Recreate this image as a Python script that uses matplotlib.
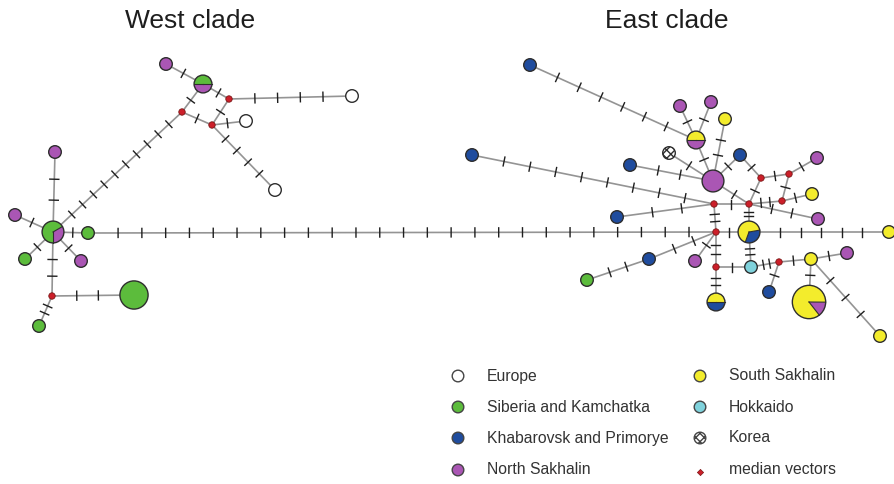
import numpy as np
import matplotlib
matplotlib.use("Agg")
import matplotlib.pyplot as plt
from matplotlib.patches import Circle, Wedge

plt.rcParams['font.family'] = ['Liberation Sans', 'DejaVu Sans']

# region codes -> legend label
regions = ['EU', 'SK', 'KP', 'NS', 'SS', 'HK', 'KO', 'MV']
region_labels = ['Europe', 'Siberia and Kamchatka', 'Khabarovsk and Primorye', 'North Sakhalin',
                 'South Sakhalin', 'Hokkaido', 'Korea', 'median vectors']

# haplotypes: id, layout position, composition (region: number of samples)
node_ids = ['w_hub', 'w_p1', 'w_p2', 'w_g1', 'w_p3', 'w_g2', 'w_m1', 'w_G', 'w_g3',
            'w_p4', 'w_pie', 'w_mA', 'w_e1', 'w_mB', 'w_mC', 'w_e2', 'w_e3',
            'e_b1', 'e_pie1', 'e_p1', 'e_p2', 'e_y1', 'e_hub', 'e_k', 'e_b2', 'e_b3',
            'e_m1', 'e_m2', 'e_p3', 'e_m3', 'e_y2', 'e_m4', 'e_p4', 'e_m5', 'e_b4', 'e_b5',
            'e_m6', 'e_pie2', 'e_y3', 'e_m7', 'e_pie3', 'e_c', 'e_m8', 'e_b6', 'e_y4',
            'e_p5', 'e_Y', 'e_y5', 'e_b7', 'e_g', 'e_p6']
node_x = [53, 55, 15, 25, 81, 88, 52, 134, 39,
          166, 203, 229, 352, 182, 212, 246, 275,
          530, 696, 680, 711, 725, 713, 669, 630, 740,
          761, 789, 817, 782, 812, 749, 818, 714, 472, 617,
          716, 749, 889, 716, 716, 751, 779, 769, 811,
          847, 809, 880, 649, 587, 695]
node_y = [232, 152, 215, 259, 261, 233, 296, 295, 326,
          64, 84, 99, 96, 112, 125, 121, 190,
          65, 140, 106, 102, 119, 181, 153, 165, 155,
          178, 174, 158, 201, 194, 204, 219, 204, 155, 217,
          232, 232, 232, 267, 302, 267, 262, 292, 259,
          253, 302, 336, 259, 280, 261]
node_comp = [{'NS': 1, 'SK': 2}, {'NS': 1}, {'NS': 1}, {'SK': 1}, {'NS': 1}, {'SK': 1}, {'MV': 1}, {'SK': 5}, {'SK': 1},
             {'NS': 1}, {'SK': 1, 'NS': 1}, {'MV': 1}, {'EU': 1}, {'MV': 1}, {'MV': 1}, {'EU': 1}, {'EU': 1},
             {'KP': 1}, {'SS': 1, 'NS': 1}, {'NS': 1}, {'NS': 1}, {'SS': 1}, {'NS': 3}, {'KO': 1}, {'KP': 1}, {'KP': 1},
             {'MV': 1}, {'MV': 1}, {'NS': 1}, {'MV': 1}, {'SS': 1}, {'MV': 1}, {'NS': 1}, {'MV': 1}, {'KP': 1}, {'KP': 1},
             {'MV': 1}, {'KP': 1, 'SS': 2}, {'SS': 1}, {'MV': 1}, {'SS': 1, 'KP': 1}, {'HK': 1}, {'MV': 1}, {'KP': 1}, {'SS': 1},
             {'NS': 1}, {'NS': 1, 'SS': 6}, {'SS': 1}, {'KP': 1}, {'SK': 1}, {'NS': 1}]
# first wedge start angle for mixed haplotypes (degrees)
pie_start = {'w_hub': -90, 'w_pie': 0, 'e_pie1': 0, 'e_pie2': -110, 'e_pie3': 0, 'e_Y': -52}

# links: (from, to, number of mutations)
edges = [('w_hub', 'w_p1', 2), ('w_hub', 'w_p2', 1), ('w_hub', 'w_g1', 1), ('w_hub', 'w_p3', 1),
         ('w_hub', 'w_g2', 1), ('w_hub', 'w_m1', 2), ('w_m1', 'w_G', 2), ('w_m1', 'w_g3', 2),
         ('w_hub', 'w_mB', 10), ('w_mB', 'w_pie', 1), ('w_mB', 'w_mC', 1), ('w_pie', 'w_p4', 1),
         ('w_pie', 'w_mA', 1), ('w_mA', 'w_mC', 1), ('w_mA', 'w_e1', 4), ('w_mC', 'w_e2', 1),
         ('w_mC', 'w_e3', 4), ('w_g2', 'e_m6', 25),
         ('e_b1', 'e_pie1', 6), ('e_p1', 'e_pie1', 1), ('e_p2', 'e_pie1', 1), ('e_pie1', 'e_hub', 1),
         ('e_y1', 'e_hub', 2), ('e_k', 'e_hub', 1), ('e_b2', 'e_hub', 2), ('e_b3', 'e_hub', 1),
         ('e_b3', 'e_m1', 1), ('e_m1', 'e_m2', 1), ('e_m2', 'e_p3', 1), ('e_m2', 'e_m3', 1),
         ('e_m3', 'e_y2', 1), ('e_m1', 'e_m4', 1), ('e_m4', 'e_m3', 2), ('e_hub', 'e_m4', 1),
         ('e_m4', 'e_p4', 2), ('e_m5', 'e_m4', 1), ('e_b4', 'e_m5', 8), ('e_b5', 'e_m5', 2),
         ('e_m5', 'e_m6', 2), ('e_m6', 'e_pie2', 1), ('e_pie2', 'e_y3', 5), ('e_m4', 'e_pie2', 2),
         ('e_m6', 'e_m7', 2), ('e_m7', 'e_pie3', 2), ('e_m7', 'e_c', 1), ('e_c', 'e_pie2', 2),
         ('e_c', 'e_m8', 2), ('e_m8', 'e_b6', 1), ('e_m8', 'e_y4', 1), ('e_y4', 'e_p5', 1),
         ('e_y4', 'e_Y', 1), ('e_y4', 'e_y5', 3), ('e_m6', 'e_b7', 2), ('e_b7', 'e_g', 2),
         ('e_m6', 'e_p6', 1)]

colors = {'EU': 'white', 'SK': '#5cbc3c', 'KP': '#1f4c9e', 'NS': '#aa56b4',
          'SS': '#f3ec2c', 'HK': '#7fd2dc', 'KO': 'white', 'MV': '#cc1f2a'}

fig = plt.figure(figsize=(8.95, 4.84), dpi=100)
ax = fig.add_axes([0, 0, 1, 1])
ax.set_xlim(0, 895)
ax.set_ylim(484, 0)
ax.axis('off')

pos = {n: (x, y) for n, x, y in zip(node_ids, node_x, node_y)}
comp = dict(zip(node_ids, node_comp))


def radius(n):
    c = comp[n]
    if 'MV' in c:
        return 3.2
    return 6.3 * np.sqrt(sum(c.values()))


# links with mutation ticks
for a, b, m in edges:
    (x1, y1), (x2, y2) = pos[a], pos[b]
    ax.plot([x1, x2], [y1, y2], color='#949494', lw=1.2, zorder=1, solid_capstyle='butt')
    L = np.hypot(x2 - x1, y2 - y1)
    ux, uy = (x2 - x1) / L, (y2 - y1) / L
    px, py = -uy, ux
    r1, r2 = radius(a), radius(b)
    for k in range(1, m + 1):
        d = r1 + (L - r1 - r2) * k / (m + 1)
        cx, cy = x1 + ux * d, y1 + uy * d
        ax.plot([cx - px * 4.5, cx + px * 4.5], [cy - py * 4.5, cy + py * 4.5],
                color='#1e1e1e', lw=1.0, zorder=2)

# haplotype circles
for n in node_ids:
    x, y = pos[n]
    r = radius(n)
    c = comp[n]
    if 'MV' in c:
        ax.add_patch(Circle((x, y), r, facecolor=colors['MV'], edgecolor='#7a1515', lw=0.6, zorder=4))
        continue
    if len(c) == 1:
        key = list(c)[0]
        hatch = 'xxxx' if key == 'KO' else None
        ax.add_patch(Circle((x, y), r, facecolor=colors[key], edgecolor='#2e2e2e', lw=1.0,
                            hatch=hatch, zorder=3))
        continue
    total = sum(c.values())
    ang = pie_start[n]
    for key, v in c.items():
        span = 360.0 * v / total
        # y axis is inverted, so flip angles to keep counterclockwise on screen
        ax.add_patch(Wedge((x, y), r, -(ang + span), -ang, facecolor=colors[key],
                           edgecolor='none', zorder=3))
        ax.plot([x, x + r * np.cos(np.radians(ang))], [y, y - r * np.sin(np.radians(ang))],
                color='#2e2e2e', lw=0.8, zorder=3.5)
        ang += span
    ax.add_patch(Circle((x, y), r, facecolor='none', edgecolor='#2e2e2e', lw=1.0, zorder=3.6))

# titles
ax.text(190, 21, 'West clade', fontsize=19, color='#1e1e1e', ha='center', va='center')
ax.text(667, 21, 'East clade', fontsize=19, color='#1e1e1e', ha='center', va='center')

# legend
leg_x = [458, 458, 458, 458, 700, 700, 700, 700]
leg_y = [376, 407, 438, 470, 376, 407, 438, 470]
for key, lab, lx, ly in zip(regions, region_labels, leg_x, leg_y):
    if key == 'MV':
        ax.scatter([lx], [ly + 2], marker='D', s=10, color=colors['MV'], edgecolor='#7a1515',
                   linewidth=0.5, zorder=3)
    else:
        ax.add_patch(Circle((lx, ly), 5.8, facecolor=colors[key], edgecolor='#444444', lw=1.0,
                            hatch='xxxx' if key == 'KO' else None, zorder=3))
    ax.text(lx + 29, ly, lab, fontsize=11.3, color='#333333', ha='left', va='center')

fig.savefig('out.png', dpi=100)
